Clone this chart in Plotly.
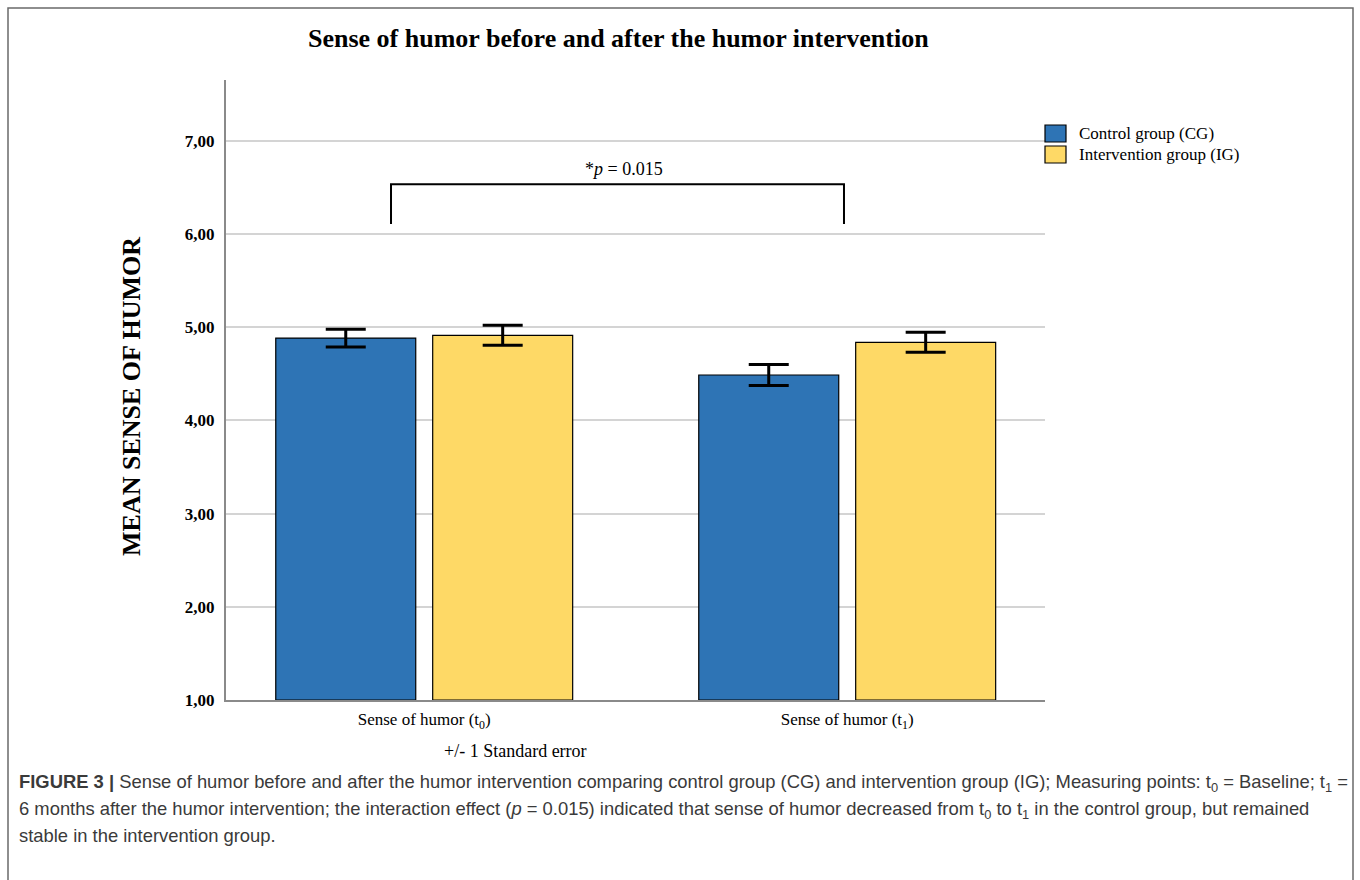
import plotly.graph_objects as go

# ---------------- data ----------------
category_keys = ["t0", "t1"]
category_labels = ["Sense of humor (t<sub>0</sub>)", "Sense of humor (t<sub>1</sub>)"]
group_names = ["Control group (CG)", "Intervention group (IG)"]
cg_means = [4.885, 4.488]
ig_means = [4.914, 4.839]
cg_se = [0.095, 0.113]
ig_se = [0.107, 0.107]
group_colors = ["#2E74B5", "#FED966"]
y_tickvals = [1, 2, 3, 4, 5, 6, 7]
y_ticktext = ["1,00", "2,00", "3,00", "4,00", "5,00", "6,00", "7,00"]
p_text = "*<i>p</i> = 0.015"
title_text = "Sense of humor before and after the humor intervention"
y_title = "MEAN SENSE OF HUMOR"
x_footer = "+/- 1 Standard error"
caption_lines = [
    "<b>FIGURE 3 |</b> Sense of humor before and after the humor intervention comparing control group (CG) and intervention group (IG); Measuring points: t<sub>0</sub> = Baseline; t<sub>1</sub> =",
    "6 months after the humor intervention; the interaction effect (<i>p</i> = 0.015) indicated that sense of humor decreased from t<sub>0</sub> to t<sub>1</sub> in the control group, but remained",
    "stable in the intervention group.",
]

# ---------------- layout geometry ----------------
WIDTH, HEIGHT = 1360, 880
ML, MR, MT, MB = 226, 1360 - 1045, 80, 880 - 700
PW = WIDTH - ML - MR
PH = HEIGHT - MT - MB


def px_x(px):
    return (px - ML) / PW


def px_y(py):
    return (HEIGHT - MB - py) / PH


SERIF = "Liberation Serif, Times New Roman, serif"
SANS = "Liberation Sans, Arial, Helvetica, sans-serif"

fig = go.Figure()
for name, means, se, color in [
    (group_names[0], cg_means, cg_se, group_colors[0]),
    (group_names[1], ig_means, ig_se, group_colors[1]),
]:
    fig.add_trace(go.Bar(
        x=category_keys, y=[m - 1 for m in means], base=1, name=name,
        marker=dict(color=color, line=dict(color="#000000", width=1.2)),
        error_y=dict(type="data", array=se, visible=True, color="#000000",
                     thickness=3, width=20),
        showlegend=False,
        hoverinfo="skip",
    ))

shapes = []
annotations = []

# significance bracket (data coords)
br_x0, br_x1 = -0.0785, 0.9924
br_top, br_bot = 6.535, 6.11
shapes.append(dict(type="path", xref="x", yref="y",
                   path=f"M {br_x0},{br_bot} L {br_x0},{br_top} L {br_x1},{br_top} L {br_x1},{br_bot}",
                   line=dict(color="#000000", width=2)))
annotations.append(dict(xref="x", yref="y", x=(br_x0 + br_x1) / 2 + 0.015, y=6.7,
                        text=p_text, showarrow=False,
                        font=dict(family=SERIF, size=18, color="#000000"),
                        xanchor="center", yanchor="middle"))

# custom legend
sw = [(125, 142), (146, 163)]
for (y0, y1), name, color in zip(sw, group_names, group_colors):
    shapes.append(dict(type="rect", xref="paper", yref="paper",
                       x0=px_x(1045), x1=px_x(1066), y0=px_y(y1), y1=px_y(y0),
                       fillcolor=color, line=dict(color="#000000", width=1.2)))
    annotations.append(dict(xref="paper", yref="paper", x=px_x(1077), y=px_y((y0 + y1) / 2),
                            text=name, showarrow=False, xanchor="left", yanchor="middle",
                            font=dict(family=SERIF, size=17, color="#000000")))

# title
annotations.append(dict(xref="paper", yref="paper", x=px_x(618), y=px_y(38),
                        text=f"<b>{title_text}</b>", showarrow=False,
                        xanchor="center", yanchor="middle",
                        font=dict(family=SERIF, size=26, color="#000000")))
# y title
annotations.append(dict(xref="paper", yref="paper", x=px_x(132), y=px_y(397),
                        text=f"<b>{y_title}</b>", showarrow=False, textangle=-90,
                        xanchor="center", yanchor="middle",
                        font=dict(family=SERIF, size=26, color="#000000")))
# x footer
annotations.append(dict(xref="paper", yref="paper", x=px_x(515), y=px_y(751),
                        text=x_footer, showarrow=False,
                        xanchor="center", yanchor="middle",
                        font=dict(family=SERIF, size=18, color="#000000")))
# caption
for i, line in enumerate(caption_lines):
    annotations.append(dict(xref="paper", yref="paper", x=px_x(17), y=px_y(783 + 26.5 * i),
                            text=line, showarrow=False, xanchor="left", yanchor="middle",
                            font=dict(family=SANS, size=18.4, color="#3a3a3a")))

# outer frame
shapes.append(dict(type="rect", xref="paper", yref="paper",
                   x0=px_x(8), x1=px_x(1353), y0=px_y(900), y1=px_y(8),
                   line=dict(color="#6a6a6a", width=1.5), fillcolor="rgba(0,0,0,0)"))

fig.update_layout(
    width=WIDTH, height=HEIGHT,
    margin=dict(l=ML, r=MR, t=MT, b=MB, pad=0),
    paper_bgcolor="#ffffff", plot_bgcolor="#ffffff",
    barmode="group", bargap=0.258, bargroupgap=0.108,
    shapes=shapes, annotations=annotations,
    showlegend=False,
    xaxis=dict(type="category", categoryorder="array", categoryarray=category_keys,
               tickvals=category_keys, ticktext=category_labels,
               range=[-0.4686, 1.4676], showline=True, linecolor="#8a8a8a", linewidth=2,
               showgrid=False, zeroline=False, ticks="", ticklabelstandoff=3,
               tickfont=dict(family=SERIF, size=17, color="#000000"), fixedrange=True),
    yaxis=dict(range=[1, 1 + 620 / 93.17], tickvals=y_tickvals,
               ticktext=[f"<b>{t}</b>" for t in y_ticktext],
               showline=True, linecolor="#8a8a8a", linewidth=2,
               showgrid=True, gridcolor="#d4d4d4", gridwidth=2, zeroline=False,
               ticks="", ticklabelstandoff=6,
               tickfont=dict(family=SERIF, size=17, color="#000000"), fixedrange=True),
)

fig.write_html("out.html")
